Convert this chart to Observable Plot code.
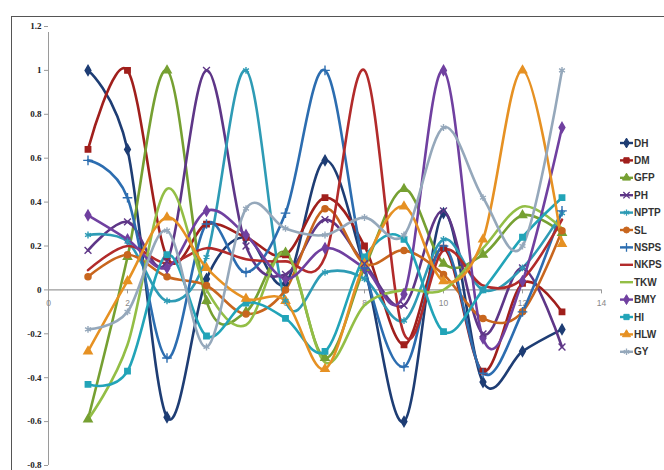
<!DOCTYPE html>
<html><head><meta charset="utf-8">
<script src="https://cdn.jsdelivr.net/npm/d3@7"></script>
<script src="https://cdn.jsdelivr.net/npm/@observablehq/plot@0.6"></script>
<style>
body{margin:0;background:#fff;}
#wrap{position:relative;width:664px;height:470px;overflow:hidden;background:#fff;}
#frame{position:absolute;left:11px;top:16px;width:700px;height:500px;border:1px solid #555;box-sizing:border-box;}
#chart{position:absolute;left:0;top:0;}
#legend{position:absolute;left:0;top:0;}
</style></head><body>
<div id="wrap"><div id="frame"></div><div id="chart"></div><svg id="legend" width="664" height="470"></svg></div>
<script>
const xs = [1,2,3,4,5,6,7,8,9,10,11,12,13];
const names = ["DH","DM","GFP","PH","NPTP","SL","NSPS","NKPS","TKW","BMY","HI","HLW","GY"];
const DH   = [1.0, 0.64,-0.58, 0.05, 0.24, 0.03, 0.59, 0.10,-0.60, 0.35,-0.42,-0.28,-0.18];
const DM   = [0.64, 1.0, 0.15, 0.30, 0.24, 0.16, 0.42, 0.20,-0.25, 0.19,-0.37, 0.03,-0.10];
const GFP  = [-0.59,0.15, 1.0,-0.05,-0.10, 0.17,-0.31, 0.10, 0.46, 0.12, 0.16, 0.34, 0.26];
const PH   = [0.18, 0.31, 0.13, 1.0, 0.20, 0.07, 0.32, 0.12,-0.07, 0.36,-0.20, 0.10,-0.26];
const NPTP = [0.25, 0.22,-0.05, 0.15, 1.0,-0.05, 0.08, 0.05,-0.14, 0.23, 0.00, 0.10, 0.35];
const SL   = [0.06, 0.16, 0.06, 0.02,-0.11, 0.00, 0.37, 0.12, 0.18, 0.07,-0.13,-0.10, 0.27];
const NSPS = [0.59, 0.42,-0.31, 0.30, 0.08, 0.35, 1.0, 0.10,-0.35, 0.20,-0.38,-0.10, 0.36];
const NKPS = [0.09, 0.20, 0.12, 0.19, 0.14, 0.13, 0.15, 1.0,-0.20, 0.18, 0.02, 0.05, 0.32];
const TKW  = [-0.59,-0.25,0.46, 0.00,-0.16, 0.17,-0.33,-0.07, 0.00, 0.00, 0.19, 0.38, 0.28];
const BMY  = [0.34, 0.23, 0.10, 0.36, 0.25, 0.05, 0.19, 0.10,-0.02, 1.0,-0.22, 0.04, 0.74];
const HI   = [-0.43,-0.37,0.16,-0.21,-0.06,-0.13,-0.28, 0.15, 0.23,-0.19, 0.00, 0.24, 0.42];
const HLW  = [-0.28,0.04, 0.33, 0.10,-0.04,-0.05,-0.36, 0.12, 0.38, 0.04, 0.23, 1.0, 0.21];
const GY   = [-0.18,-0.10,0.27,-0.26, 0.37, 0.28, 0.25, 0.33, 0.25, 0.74, 0.42, 0.20, 1.0];
const seriesValues = [DH,DM,GFP,PH,NPTP,SL,NSPS,NKPS,TKW,BMY,HI,HLW,GY];
const colors = ["#1E3D74","#A01F1C","#76A032","#5E3687","#2E9BB5","#C8661E","#2C6DB0","#B22B2B","#93BE46","#7040A0","#22A4B8","#E69123","#95A8BB"];
const markers = ["diamond","square","triangle","times","asterisk","circle","plus",null,null,"diamond","square","triangle","asterisk"];
const xTicks = [0,2,4,6,8,10,12,14];
const yTicks = [-0.8,-0.6,-0.4,-0.2,0,0.2,0.4,0.6,0.8,1,1.2];

const data = [];
names.forEach((s,i)=>seriesValues[i].forEach((v,j)=>data.push({s, x: xs[j], v, m: markers[i]})));
const filledSyms = new Set(["diamond","square","triangle","circle"]);
const font = "'Liberation Sans', Arial, sans-serif";

const plot = Plot.plot({
  width: 664, height: 470,
  marginLeft: 48, marginRight: 63, marginTop: 26, marginBottom: 5,
  style: {background: "transparent", overflow: "visible"},
  x: {domain: [0,14], axis: null},
  y: {domain: [-0.8,1.2], axis: null},
  color: {domain: names, range: colors},
  symbol: {domain: ["diamond","square","triangle","times","asterisk","circle","plus"],
           range: ["diamond","square","triangle","times","asterisk","circle","plus"]},
  marks: [
    Plot.ruleX([0], {stroke: "#9a9a9a", strokeWidth: 1, y1: -0.8, y2: 1.2, insetBottom: -6}),
    Plot.axisY(yTicks, {label: null, tickSize: 4, tickPadding: 3, tickFormat: d => String(+d.toFixed(1)),
      fontSize: 9, fontWeight: "bold", fontFamily: "'Liberation Serif', serif", fill: "#222", stroke: "#9a9a9a"}),
    Plot.ruleY([0], {x1: 0, x2: 14, stroke: "#9a9a9a", strokeWidth: 1.2}),
    Plot.ruleX(xTicks, {x: d => d, y1: 0, y2: 0, insetBottom: -4, stroke: "#9a9a9a"}),
    Plot.text(xTicks, {x: d => d, y: 0, dy: 13, text: d => String(d), fontSize: 8.5, fill: "#888", fontFamily: font}),
    Plot.line(data, {x: "x", y: "v", z: "s", stroke: "s", curve: "cardinal", tension: 0, strokeWidth: 2.6}),
    Plot.dot(data.filter(d => d.m && filledSyms.has(d.m)), {x: "x", y: "v", symbol: "m", fill: "s", stroke: "s", r: 3}),
    Plot.dot(data.filter(d => d.m && !filledSyms.has(d.m)), {x: "x", y: "v", symbol: "m", stroke: "s", strokeWidth: 1.4, r: 3.2})
  ]
});
document.getElementById("chart").appendChild(plot);

// legend
const lg = d3.select("#legend");
const symMap = {diamond:d3.symbolDiamond, square:d3.symbolSquare, triangle:d3.symbolTriangle,
  times:d3.symbolTimes, asterisk:d3.symbolAsterisk, circle:d3.symbolCircle, plus:d3.symbolPlus};
names.forEach((n,i)=>{
  const y = 143 + i*17.4;
  const g = lg.append("g");
  g.append("line").attr("x1",620).attr("x2",633).attr("y1",y).attr("y2",y)
    .attr("stroke",colors[i]).attr("stroke-width",2.4);
  const m = markers[i];
  if (m) {
    const filled = filledSyms.has(m);
    g.append("path").attr("d", d3.symbol(symMap[m], 28)()).attr("transform",`translate(626.5,${y})`)
      .attr("fill", filled ? colors[i] : "none").attr("stroke", colors[i]).attr("stroke-width", filled?1:1.3);
  }
  g.append("text").attr("x",634).attr("y",y).attr("dy","0.35em").text(n)
    .attr("font-family",font).attr("font-weight","bold").attr("font-size",10).attr("fill","#333");
});
</script>
</body></html>
